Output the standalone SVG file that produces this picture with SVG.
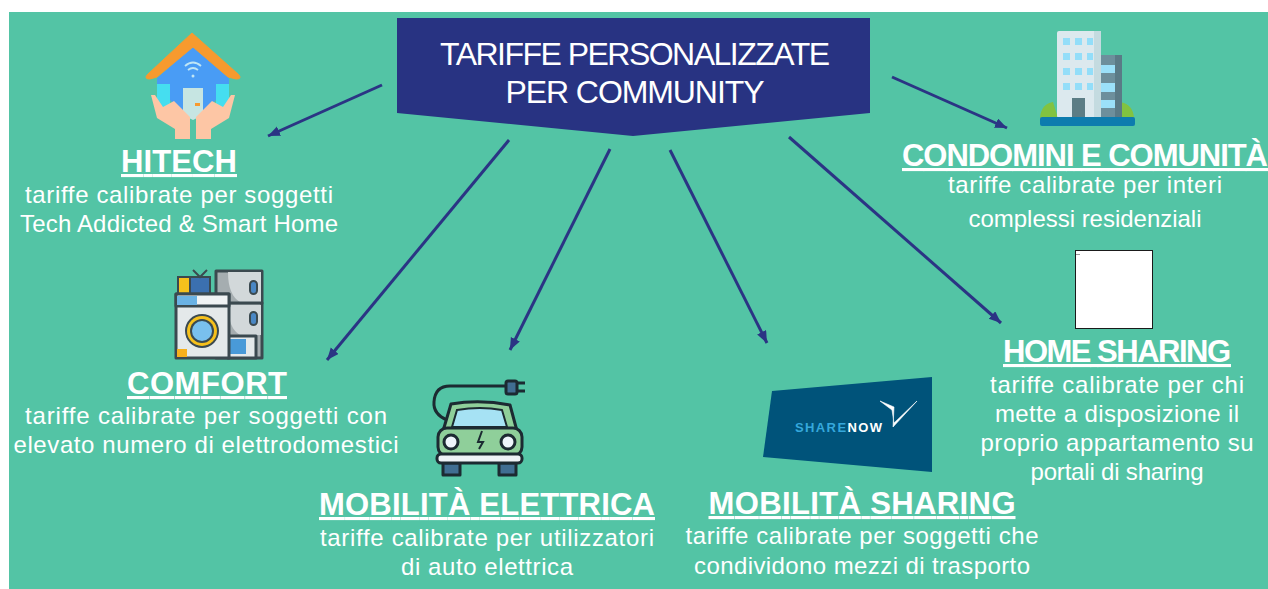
<svg xmlns="http://www.w3.org/2000/svg" width="1268" height="589" viewBox="0 0 1268 589">
<style>
text{font-family:"Liberation Sans",Arial,sans-serif;fill:#fff;text-anchor:middle}
.t{font-size:24px}
.h{font-size:31px;font-weight:700;text-decoration:underline}
.b{font-size:32px}
.c{fill:none;stroke:#2b3484;stroke-width:3}
.k{stroke:#3a4a50;stroke-width:3;stroke-linejoin:round;stroke-linecap:round}
.d{stroke:#1c2a30;stroke-width:3;stroke-linejoin:round}
.i{filter:url(#s)}
</style>
<defs>
<marker id="a" markerUnits="userSpaceOnUse" markerWidth="14" markerHeight="12" refX="12" refY="5" orient="auto"><path d="M0 0L12 5L0 10z" fill="#2b3484"/></marker>
<filter id="s" x="-5%" y="-5%" width="110%" height="110%"><feGaussianBlur stdDeviation="0.5"/></filter>
</defs>
<rect width="1268" height="589" fill="#fff"/>
<rect x="9" y="12" width="1259" height="577" fill="#53c4a5"/>
<g id="connectors">
<line class="c" marker-end="url(#a)" x1="382" y1="85" x2="268" y2="136"/>
<line class="c" marker-end="url(#a)" x1="509" y1="140" x2="327" y2="360"/>
<line class="c" marker-end="url(#a)" x1="610" y1="149" x2="510" y2="350"/>
<line class="c" marker-end="url(#a)" x1="670" y1="150" x2="767" y2="343"/>
<line class="c" marker-end="url(#a)" x1="789" y1="137" x2="1001" y2="323"/>
<line class="c" marker-end="url(#a)" x1="892" y1="77" x2="1007" y2="128"/>
</g>
<g id="title">
<path d="M397 18H870V113L633 136L397 113Z" fill="#283382"/>
<text class="b" x="635" y="65" textLength="390" lengthAdjust="spacing">TARIFFE PERSONALIZZATE</text>
<text class="b" x="635" y="103" textLength="259" lengthAdjust="spacing">PER COMMUNITY</text>
</g>
<g id="hitech">
<g class="i">
<path d="M157 82H170V115H157ZM216 82H229V115H216Z" fill="#45def0"/>
<path d="M193 46L229 78V84H216V100L203 112H183L170 100V84H157V78Z" fill="#4a9cf5"/>
<path d="M192 33L238 74Q243 79 236 79L228 77L193 47L157 77L150 79Q143 79 148 74Z" fill="#f79a2d" stroke="#f79a2d" stroke-linejoin="round"/>
<path d="M183 88H203V115L193 120L183 115Z" fill="#c6e5e2"/>
<rect x="195" y="103" width="5" height="3" fill="#f79a2d"/>
<path d="M185 66Q193 59 201 66M188 70Q193 66 198 70" fill="none" stroke="#bfe6f5" stroke-width="1.800"/>
<circle cx="193" cy="76" r="1.500" fill="#bfe6f5"/>
<path d="M151 95L155 95L163 107L174 101L190 117V139H175V129L157 118Z" fill="#fdc6a5"/>
<path d="M235 95L231 95L223 107L212 101L196 117V139H211V129L229 118Z" fill="#fdc6a5"/>
</g>
<text class="h" x="179" y="172" textLength="116">HITECH</text>
<text class="t" x="179" y="203" textLength="308">tariffe calibrate per soggetti</text>
<text class="t" x="179" y="232" textLength="318">Tech Addicted &amp; Smart Home</text>
</g>
<g id="comfort">
<g class="i">
<rect x="216" y="271" width="46" height="87" fill="#a5adb0" class="k"/>
<path d="M228 272H261V302H240Q228 295 228 272ZM228 305H261V335H240Q228 328 228 305Z" fill="#d2d8da"/>
<path d="M216 303H262" class="k"/>
<rect x="250" y="281" width="7" height="13" rx="3.500" fill="#4a87c4" stroke="#3a4a50" stroke-width="2"/>
<rect x="250" y="312" width="7" height="13" rx="3.500" fill="#4a87c4" stroke="#3a4a50" stroke-width="2"/>
<rect x="178" y="277" width="32" height="17" fill="#3a6fb0" stroke="#3a4a50" stroke-width="2"/>
<rect x="178" y="277" width="12" height="17" fill="#f6c11c" stroke="#3a4a50" stroke-width="2"/>
<path d="M193 270L200 277L207 270" fill="none" stroke="#3a4a50" stroke-width="2"/>
<rect x="228" y="336" width="28" height="22" fill="#e4e9ea" class="k"/>
<path d="M230 339H246V354H230Z" fill="#4a9ad8"/>
<rect x="176" y="294" width="53" height="64" fill="#e4e9ea" class="k"/>
<rect x="176" y="294" width="53" height="12" fill="#f0f3f4" class="k"/>
<rect x="177" y="296" width="20" height="9" fill="#6ab2e4"/>
<circle cx="202" cy="331" r="17" fill="#3a4a50"/>
<circle cx="202" cy="331" r="15" fill="#f6c11c"/>
<circle cx="202" cy="331" r="12" fill="#3a4a50"/>
<circle cx="202" cy="331" r="10" fill="#79c0ee"/>
<rect x="177" y="349" width="10" height="8" fill="#f6b01c"/>
</g>
<text class="h" x="207" y="394" textLength="160">COMFORT</text>
<text class="t" x="206" y="424" textLength="362">tariffe calibrate per soggetti con</text>
<text class="t" x="206" y="453" textLength="385">elevato numero di elettrodomestici</text>
</g>
<g id="mobilita-elettrica">
<g class="i">
<path d="M447 420Q433 414 434 402Q435 386 450 386H510" fill="none" class="d"/>
<path d="M517 383H525M517 391H525" class="d"/>
<rect x="506" y="381" width="11" height="13" rx="2" fill="#3f6e92" class="d"/>
<path d="M443 431L451 404Q480 399 510 405L517 431Z" fill="#8fcf9a" class="d"/>
<path d="M452 427L457 410Q480 406 502 410L507 427Z" fill="#a6e2f4" stroke="#1c2a30" stroke-width="2"/>
<rect x="438" y="428" width="84" height="28" rx="9" fill="#8fcf9a" class="d"/>
<circle cx="451" cy="442" r="7" fill="#eef5fb" class="d"/>
<circle cx="508" cy="442" r="7" fill="#eef5fb" class="d"/>
<path d="M482 431L478 442H483L479 449" fill="none" stroke="#1c2a30" stroke-width="2"/>
<rect x="443" y="463" width="17" height="12" fill="#3f6e92" class="d"/>
<rect x="499" y="463" width="17" height="12" fill="#3f6e92" class="d"/>
<rect x="437" y="454" width="85" height="9" rx="4" fill="#eef2f6" class="d"/>
</g>
<text class="h" x="487" y="515" textLength="336">MOBILITÀ ELETTRICA</text>
<text class="t" x="487" y="546" textLength="334">tariffe calibrate per utilizzatori</text>
<text class="t" x="487" y="575" textLength="172">di auto elettrica</text>
</g>
<g id="mobilita-sharing">
<path d="M772 391L932 377V472L763 457Z" fill="#04537a" class="i"/>
<text x="795" y="432" textLength="87" style="text-anchor:start;font-size:13px;font-weight:700;fill:#35a8dc">SHARE<tspan fill="#fff">NOW</tspan></text>
<path d="M880 401L894 407L893 427L917 401L894 423L892 410Z" fill="#fff" stroke="#fff" stroke-width=".6"/>
<text class="h" x="862" y="514" textLength="307">MOBILITÀ SHARING</text>
<text class="t" x="862" y="544" textLength="353">tariffe calibrate per soggetti che</text>
<text class="t" x="862" y="574" textLength="336">condividono mezzi di trasporto</text>
</g>
<g id="condomini">
<g class="i">
<path d="M1040 118Q1041 104 1053 102L1058 118ZM1120 102Q1133 104 1134 118H1120Z" fill="#82c341"/>
<rect x="1096" y="55" width="26" height="62" rx="2" fill="#6d8f9c"/>
<rect x="1115" y="55" width="7" height="62" fill="#5a7a86"/>
<rect x="1101" y="65" width="14" height="8" fill="#9be0f9"/>
<rect x="1101" y="83" width="14" height="9" fill="#9be0f9"/>
<rect x="1101" y="100" width="14" height="8" fill="#9be0f9"/>
<rect x="1057" y="31" width="44" height="87" rx="2" fill="#dce9ee"/>
<rect x="1094" y="31" width="7" height="87" fill="#c4dbe0"/>
<g fill="#93def9"><rect x="1063" y="38" width="7" height="7"/><rect x="1075" y="38" width="7" height="7"/><rect x="1087" y="38" width="6" height="7"/><rect x="1063" y="53" width="7" height="7"/><rect x="1075" y="53" width="7" height="7"/><rect x="1087" y="53" width="6" height="7"/><rect x="1063" y="68" width="7" height="7"/><rect x="1075" y="68" width="7" height="7"/><rect x="1087" y="68" width="6" height="7"/><rect x="1063" y="83" width="7" height="7"/><rect x="1075" y="83" width="7" height="7"/><rect x="1087" y="83" width="6" height="7"/></g>
<rect x="1072" y="98" width="13" height="20" fill="#5b7d85"/>
<rect x="1040" y="117" width="95" height="9" rx="2" fill="#0f7cae"/>
</g>
<text class="h" x="1085" y="166" textLength="366">CONDOMINI E COMUNITÀ</text>
<text class="t" x="1085" y="193" textLength="274">tariffe calibrate per interi</text>
<text class="t" x="1085" y="227" textLength="233">complessi residenziali</text>
</g>
<g id="home-sharing">
<rect x="1075.500" y="250.500" width="77" height="78" fill="#fff" stroke="#1a1a1a"/>
<rect x="1076" y="254" width="4" height="1" fill="#999"/>
<text class="h" x="1117" y="362" textLength="228">HOME SHARING</text>
<text class="t" x="1117" y="393" textLength="254">tariffe calibrate per chi</text>
<text class="t" x="1117" y="422" textLength="244">mette a disposizione il</text>
<text class="t" x="1117" y="451" textLength="273">proprio appartamento su</text>
<text class="t" x="1117" y="480" textLength="173">portali di sharing</text>
</g>
</svg>
